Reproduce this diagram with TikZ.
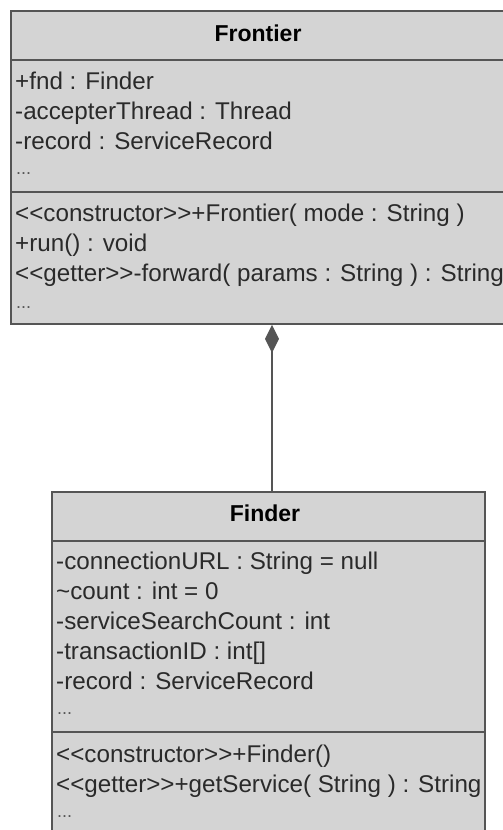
\documentclass[tikz,border=0pt]{standalone}
\usepackage{fontspec}
\setmainfont{Liberation Sans}
\usetikzlibrary{arrows.meta}
\definecolor{boxfill}{HTML}{D4D4D4}
\definecolor{boxline}{HTML}{555555}
\definecolor{txt}{HTML}{2A2A2A}
\newcommand{\stereo}[1]{<{}<#1>{}>}
\tikzset{
  classbox/.style={draw=boxline, line width=1.8pt, fill=boxfill, rectangle, inner sep=0pt},
  divider/.style={draw=boxline, line width=1.6pt},
  member/.style={anchor=base west, inner sep=0pt, text=txt, font=\fontsize{24.2}{26}\selectfont},
  more/.style={anchor=base west, inner sep=0pt, text=txt!80, font=\fontsize{18}{20}\selectfont},
  classname/.style={anchor=center, inner sep=0pt, text=black, font=\fontsize{23}{26}\selectfont\bfseries},
  compose/.style={draw=boxline, line width=1.6pt, {Diamond[length=28pt,width=14pt,fill=boxline]}-}
}
\begin{document}
\begin{tikzpicture}[x=1pt,y=-1pt]
  \useasboundingbox[fill=white] (0,0) rectangle (503,830);

  % class Frontier
  \node[classbox, minimum width=494pt, minimum height=313pt] (frontier) at (258,167.5) {};
  \draw[divider] (11,60) -- (505,60);
  \draw[divider] (11,192) -- (505,192);
  \node[classname] (frontierName) at (258,33) {Frontier};
  \node[member] (f1) at (15,89)  {+fnd : Finder};
  \node[member] (f2) at (15,119) {-accepterThread : Thread};
  \node[member] (f3) at (15,149) {-record : ServiceRecord};
  \node[more]   (f4) at (16,174) {...};
  \node[member] (f5) at (15,221) {\stereo{constructor}+Frontier( mode : String )};
  \node[member] (f6) at (15,251) {+run() : void};
  \node[member] (f7) at (15,281) {\stereo{getter}-forward( params : String ) : String};
  \node[more]   (f8) at (16,308) {...};

  % class Finder
  \node[classbox, minimum width=433pt, minimum height=358pt] (finder) at (268.5,671) {};
  \draw[divider] (52,541) -- (485,541);
  \draw[divider] (52,732) -- (485,732);
  \node[classname] (finderName) at (265,513) {Finder};
  \node[member] (g1) at (56,569) {-connectionURL : String = null};
  \node[member] (g2) at (56,599) {\char"007Ecount : int = 0};
  \node[member] (g3) at (56,629) {-serviceSearchCount : int};
  \node[member] (g4) at (56,659) {-transactionID : int[]};
  \node[member] (g5) at (56,689) {-record : ServiceRecord};
  \node[more]   (g6) at (57,714) {...};
  \node[member] (g7) at (56,762) {\stereo{constructor}+Finder()};
  \node[member] (g8) at (56,792) {\stereo{getter}+getService( String ) : String};
  \node[more]   (g9) at (57,817) {...};

  % composition: Frontier owns Finder
  \coordinate (link) at (272,0);
  \draw[compose] (frontier.south -| link) -- (finder.north -| link);
\end{tikzpicture}
\end{document}
